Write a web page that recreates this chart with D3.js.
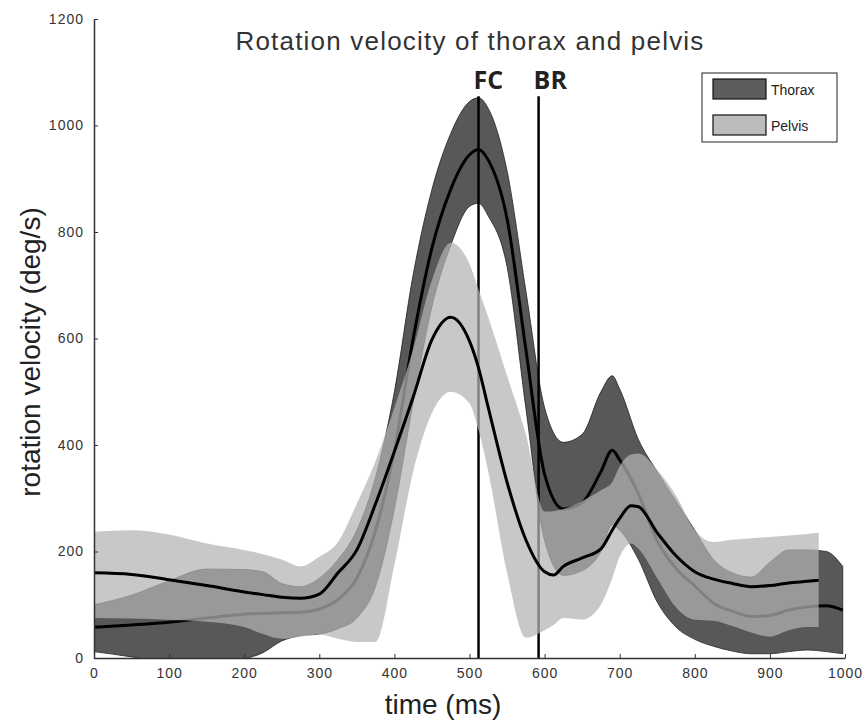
<!DOCTYPE html>
<html>
<head>
<meta charset="utf-8">
<script src="https://cdn.jsdelivr.net/npm/d3@7"></script>
<style>
body { margin: 0; background: #fff; }
svg text { font-family: "Liberation Sans", Arial, sans-serif; }
</style>
</head>
<body>
<div class="chart_container"></div>
<script>
// thorax: mean curve and the band around it (deg/s), time in ms
var thoraxTime = [0, 50, 100, 150, 200, 225, 250, 275, 300, 325, 350, 375, 400, 425, 450, 475, 500, 512, 525, 550, 575, 600, 625, 650, 675, 690, 700, 725, 750, 775, 800, 825, 850, 875, 900, 925, 950, 975, 997];
var thoraxMean = [58, 62, 67, 75, 82, 84, 85, 86, 92, 110, 150, 240, 390, 600, 770, 880, 945, 955, 935, 825, 580, 345, 280, 292, 350, 390, 372, 308, 220, 168, 135, 103, 88, 78, 80, 90, 96, 98, 90];
var thoraxHigh = [100, 118, 145, 167, 166, 162, 140, 134, 150, 185, 240, 340, 500, 720, 880, 985, 1045, 1052, 1032, 915, 690, 470, 405, 420, 500, 530, 505, 410, 350, 295, 240, 185, 160, 152, 180, 203, 203, 200, 172];
var thoraxLow = [12, 2, -10, -15, -2, 10, 32, 42, 45, 55, 75, 135, 280, 480, 660, 775, 848, 854, 830, 735, 470, 220, 155, 164, 200, 250, 240, 185, 105, 58, 35, 22, 13, 8, 8, 12, 15, 12, 8];

// pelvis
var pelvisTime = [0, 50, 100, 150, 200, 225, 250, 275, 300, 325, 350, 375, 400, 425, 450, 475, 500, 512, 525, 550, 575, 600, 612, 625, 650, 675, 690, 700, 715, 725, 750, 775, 800, 825, 850, 875, 900, 925, 950, 965];
var pelvisMean = [160, 157, 147, 136, 124, 119, 114, 112, 120, 160, 203, 290, 388, 490, 598, 640, 595, 545, 470, 330, 222, 162, 156, 172, 188, 205, 240, 262, 286, 284, 235, 192, 162, 148, 140, 134, 136, 141, 144, 146];
var pelvisHigh = [237, 240, 232, 215, 203, 195, 185, 172, 190, 218, 290, 370, 470, 580, 710, 780, 740, 692, 640, 530, 420, 275, 276, 280, 295, 315, 330, 360, 382, 384, 353, 305, 240, 218, 222, 225, 227, 230, 233, 235];
var pelvisLow = [75, 74, 72, 68, 58, 45, 36, 40, 44, 36, 30, 30, 175, 350, 460, 500, 478, 428, 350, 160, 38, 52, 62, 75, 72, 100, 150, 190, 215, 205, 150, 95, 72, 70, 60, 48, 40, 52, 58, 58];

var eventNames = ["FC", "BR"];
var eventTimes = [512, 592];
var legendLabels = ["Thorax", "Pelvis"];
var xTicks = [0, 100, 200, 300, 400, 500, 600, 700, 800, 900, 1000];
var yTicks = [0, 200, 400, 600, 800, 1000, 1200];

var svg = d3.select(".chart_container").append("svg")
    .attr("width", 868)
    .attr("height", 724);

var x = d3.scaleLinear().domain([0, 1000]).range([94, 845]);
var y = d3.scaleLinear().domain([0, 1200]).range([658, 19]);

svg.append("clipPath")
    .attr("id", "plot_clip")
  .append("rect")
    .attr("x", 94)
    .attr("y", 0)
    .attr("width", 751)
    .attr("height", 658);

var thorax = thoraxTime.map((t, i) => {
    return {t: t, mean: thoraxMean[i], lo: thoraxLow[i], hi: thoraxHigh[i]};
});
var pelvis = pelvisTime.map((t, i) => {
    return {t: t, mean: pelvisMean[i], lo: pelvisLow[i], hi: pelvisHigh[i]};
});

var band = d3.area()
    .x(d => x(d.t))
    .y0(d => y(d.lo))
    .y1(d => y(d.hi))
    .curve(d3.curveMonotoneX);

var meanLine = d3.line()
    .x(d => x(d.t))
    .y(d => y(d.mean))
    .curve(d3.curveMonotoneX);

var plot = svg.append("g")
    .attr("clip-path", "url(#plot_clip)");

plot.append("path")
    .datum(thorax)
    .attr("d", band)
    .style("fill", "#585858")
    .style("stroke", "#222")
    .style("stroke-width", "0.8px");

plot.append("path")
    .datum(thorax)
    .attr("d", meanLine)
    .style("fill", "none")
    .style("stroke", "#000")
    .style("stroke-width", "3px");

plot.selectAll(".event")
    .data(eventTimes)
    .enter().append("line")
        .attr("class", "event")
        .attr("x1", d => x(d))
        .attr("x2", d => x(d))
        .attr("y1", y(1055))
        .attr("y2", y(0))
        .style("stroke", "#000")
        .style("stroke-width", "2.5px");

plot.append("path")
    .datum(pelvis)
    .attr("d", band)
    .style("fill", "#b3b3b3")
    .style("fill-opacity", 0.72);

plot.append("path")
    .datum(pelvis)
    .attr("d", meanLine)
    .style("fill", "none")
    .style("stroke", "#000")
    .style("stroke-width", "3px");

// axes
svg.append("g")
    .attr("transform", "translate(94,0)")
    .call(d3.axisLeft(y).tickValues(yTicks).tickFormat(d3.format("d"))
        .tickSizeInner(-4).tickSizeOuter(0).tickPadding(10));

svg.append("g")
    .attr("transform", "translate(0,658)")
    .call(d3.axisBottom(x).tickValues(xTicks).tickFormat(d3.format("d"))
        .tickSizeInner(-4).tickSizeOuter(0).tickPadding(10));

svg.selectAll(".domain")
    .style("stroke", "#333")
    .style("stroke-width", "1.5px");
svg.selectAll(".tick line")
    .style("stroke", "#333");
svg.selectAll(".tick text")
    .style("font-family", "'Liberation Sans', Arial, sans-serif")
    .style("font-size", "14px")
    .style("letter-spacing", "1px")
    .style("fill", "#333");

// event labels
svg.selectAll(".event_label")
    .data(eventNames)
    .enter().append("text")
        .attr("class", "event_label")
        .attr("x", (d, i) => x(eventTimes[i]) - 5)
        .attr("y", 89)
        .style("font-family", "'Open Sans', 'DejaVu Sans', sans-serif")
        .style("font-weight", "bold")
        .style("font-size", "25px")
        .style("fill", "#222")
        .text(d => d);

// title and axis labels
svg.append("text")
    .attr("x", 470)
    .attr("y", 50)
    .attr("text-anchor", "middle")
    .style("font-size", "26px")
    .style("letter-spacing", "1.2px")
    .style("fill", "#333")
    .text("Rotation velocity of thorax and pelvis");

svg.append("text")
    .attr("transform", "translate(40,352) rotate(-90)")
    .attr("text-anchor", "middle")
    .style("font-size", "28px")
    .style("fill", "#222")
    .text("rotation velocity (deg/s)");

svg.append("text")
    .attr("x", 443)
    .attr("y", 714)
    .attr("text-anchor", "middle")
    .style("font-size", "28px")
    .style("fill", "#222")
    .text("time (ms)");

// legend
var legend = svg.append("g")
    .attr("transform", "translate(702,73)");

legend.append("rect")
    .attr("width", 135)
    .attr("height", 69)
    .style("fill", "#fff")
    .style("stroke", "#222")
    .style("stroke-width", "1px");

var swatchColors = ["#5d5d5d", "#bcbcbc"];
legend.selectAll(".swatch")
    .data(legendLabels)
    .enter().append("rect")
        .attr("class", "swatch")
        .attr("x", 11)
        .attr("y", (d, i) => 6 + i * 36)
        .attr("width", 53)
        .attr("height", 20)
        .style("fill", (d, i) => swatchColors[i])
        .style("stroke", "#111")
        .style("stroke-width", "1.2px");

legend.selectAll(".legend_text")
    .data(legendLabels)
    .enter().append("text")
        .attr("class", "legend_text")
        .attr("x", 69)
        .attr("y", (d, i) => 22 + i * 36)
        .style("font-size", "14px")
        .style("fill", "#222")
        .text(d => d);
</script>
</body>
</html>
